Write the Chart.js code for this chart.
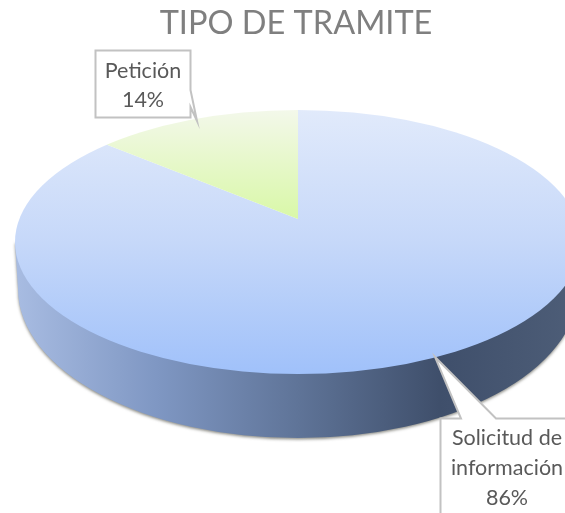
<!DOCTYPE html>
<html><head><meta charset="utf-8">
<style>html,body{margin:0;padding:0;background:#fff}canvas{display:block}</style>
<script src="https://cdn.jsdelivr.net/npm/chart.js@4/dist/chart.umd.js"></script>
</head><body><canvas id="c" width="565" height="513"></canvas>
<script>
const chartTitle = 'TIPO DE TRAMITE';
const categories = ['Solicitud de información', 'Petición'];
const categoryLines = [['Solicitud de', 'información'], ['Petición']];
const values = [86, 14];

const FONT = 'Lato, Carlito, "Open Sans", sans-serif';
const E = {cx: 298, cy: 242, rx: 283, ry: 132, apexX: 298, apexY: 219, squash: 0.47};
const B = {cx: 298, cy: 289, rx: 280, ry: 149};
const R = 420;

function pieTransform(chart) {
  const a = chart.getDatasetMeta(0).data[0];
  return {x: a.x, y: a.y, k: R / a.outerRadius};
}
function sliceGradient(chart, stops, y0, y1) {
  const ctx = chart.ctx, area = chart.chartArea;
  if (!area) return stops[0];
  const cy = (area.top + area.bottom) / 2;
  const radius = Math.min(area.width, area.height) / 2;
  const k = R / radius;
  const toUser = Y => cy + (Y - E.apexY) / (k * E.squash);
  const g = ctx.createLinearGradient(0, toUser(y0), 0, toUser(y1));
  stops.forEach((s, i) => g.addColorStop(i / (stops.length - 1), s));
  return g;
}

const solidPie = {
  id: 'solidPie',
  beforeDatasetsDraw(chart) {
    const ctx = chart.ctx;
    ctx.save();
    ctx.shadowColor = 'rgba(70,70,60,0.6)';
    ctx.shadowBlur = 3;
    ctx.shadowOffsetY = 1.5;
    const w = ctx.createLinearGradient(E.cx - E.rx, 0, E.cx + E.rx, 0);
    w.addColorStop(0, '#a8bce2');
    w.addColorStop(0.25, '#7f97c3');
    w.addColorStop(0.5, '#5f7498');
    w.addColorStop(0.75, '#3f4f6b');
    w.addColorStop(1, '#4e5e78');
    ctx.fillStyle = w;
    ctx.beginPath();
    ctx.moveTo(E.cx + E.rx, E.cy);
    ctx.ellipse(B.cx, B.cy, B.rx, B.ry, 0, 0, Math.PI);
    ctx.lineTo(E.cx - E.rx, E.cy);
    ctx.closePath();
    ctx.fill();
    ctx.restore();
    ctx.save();
    ctx.beginPath();
    ctx.ellipse(E.cx, E.cy, E.rx, E.ry, 0, 0, Math.PI * 2);
    ctx.clip();
    const t = pieTransform(chart);
    ctx.translate(E.apexX, E.apexY);
    ctx.scale(t.k, t.k * E.squash);
    ctx.translate(-t.x, -t.y);
  },
  afterDatasetsDraw(chart) {
    const ctx = chart.ctx;
    ctx.restore();
    const total = values.reduce((a, b) => a + b, 0);
    const pct = i => Math.round(values[i] / total * 100) + '%';
    ctx.save();
    ctx.beginPath();
    ctx.moveTo(190.5, 90); ctx.lineTo(197, 121); ctx.lineTo(190.5, 107); ctx.lineTo(190.5, 117.5);
    ctx.lineTo(95.5, 117.5); ctx.lineTo(95.5, 50.5); ctx.lineTo(190.5, 50.5); ctx.closePath();
    ctx.fillStyle = '#fff'; ctx.strokeStyle = '#c2c2c2'; ctx.lineWidth = 2; ctx.fill(); ctx.stroke();
    ctx.fillStyle = '#595959'; ctx.font = '21.5px ' + FONT; ctx.textAlign = 'center';
    categoryLines[1].concat(pct(1)).forEach((l, i) => ctx.fillText(l, 143, 78 + i * 29));
    ctx.beginPath();
    ctx.moveTo(440.5, 418.5); ctx.lineTo(461, 418.5); ctx.lineTo(435, 357); ctx.lineTo(496, 418.5);
    ctx.lineTo(567, 418.5); ctx.lineTo(567, 515); ctx.lineTo(440.5, 515); ctx.closePath();
    ctx.fillStyle = '#fff';
    ctx.fill(); ctx.stroke();
    ctx.fillStyle = '#595959';
    categoryLines[0].concat(pct(0)).forEach((l, i) => ctx.fillText(l, 507, 445 + i * 30));
    ctx.restore();
  }
};

const chart = new Chart(document.getElementById('c'), {
  type: 'pie',
  data: {
    labels: categories,
    datasets: [{
      data: values,
      clip: false,
      borderWidth: 0,
      backgroundColor: c => c.dataIndex === 0
        ? sliceGradient(c.chart, ['#e1eafb', '#c6d8f9', '#a0c1fa'], 110, 374)
        : sliceGradient(c.chart, ['#f3f8ea', '#d9f8a8'], 110, 218)
    }]
  },
  options: {
    responsive: false,
    animation: false,
    layout: {padding: {left: 27}},
    plugins: {
      legend: {display: false},
      tooltip: {enabled: false},
      title: {
        display: true,
        text: chartTitle,
        color: '#7f7f7f',
        font: {family: FONT, size: 32.5, weight: 'normal'},
        padding: {top: 4, bottom: 8}
      }
    }
  },
  plugins: [solidPie]
});
chart.update();
</script></body></html>
